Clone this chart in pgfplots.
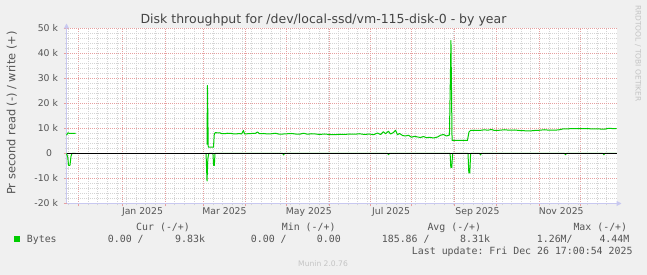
\documentclass[border=0pt]{standalone}
\usepackage{fontspec}
\setmainfont{DejaVu Sans}
\setmonofont{DejaVu Sans Mono}
\usepackage{pgfplots}
\pgfplotsset{compat=1.18}
\usetikzlibrary{arrows.meta}
\definecolor{bgc}{HTML}{F0F0F0}
\definecolor{linec}{HTML}{00CC00}
\definecolor{axc}{HTML}{C8C8F0}
\definecolor{mgc}{HTML}{E6A0A0}
\definecolor{grc}{HTML}{D4D4D4}
\definecolor{tc}{HTML}{555555}
\definecolor{titlec}{HTML}{444444}
\definecolor{wmc}{HTML}{C4C4C4}

\pgfplotstableread{
day val
0 7300
1.09 8300
2.18 8000
6.55 8000
7 nan
102.2 3500
102.5 27200
103.1 2500
106.9 2500
107.5 7900
108.4 8400
109.8 8200
111.3 8300
112.7 8000
114.9 7900
117.1 8100
120.0 8000
122.2 7800
124.4 7900
125.8 8000
127.3 7800
128.7 9200
129.5 7800
131.6 7900
134.5 8000
137.5 8100
138.9 8600
140.4 7900
143.3 8000
146.2 7800
149.1 7900
152.0 8100
154.9 7700
157.8 7800
160.7 7900
163.6 8000
166.5 7800
169.5 7700
172.4 8100
175.3 7700
178.2 7900
181.1 7800
184.0 7600
187.6 7800
191.3 7600
194.9 7500
198.5 7700
202.2 7600
205.8 7800
209.5 7700
213.1 7900
216.7 7600
220.4 7800
223.3 7500
226.2 8200
228.4 7600
230.5 8700
232.0 7900
234.2 8900
235.6 7800
237.8 8400
239.3 9300
240.7 7500
242.2 8000
244.4 7200
246.5 7000
248.7 7300
250.9 6500
253.1 6900
255.3 6600
257.5 6400
259.6 6800
261.8 6300
264.0 6500
266.9 6200
269.8 6600
272.0 7300
274.2 7600
276.4 7000
278.5 7400
279.6 45200
280.4 5200
291.6 5200
292.7 8600
293.8 9200
296.7 9300
300.4 9200
304.0 9500
306.2 9300
309.1 9600
311.3 9200
314.9 9300
318.5 9500
322.2 9300
325.8 9400
329.5 9200
333.1 9100
336.7 9000
340.4 9200
344.0 9300
347.6 9500
351.3 9300
354.9 9300
358.5 9500
360.7 9800
365.8 9900
373.1 9900
380.4 9900
388.0 9800
391.3 9700
393.5 10000
396.4 10000
400 9900
}\writetable

\pgfplotstableread{
day val
0 0
0.9 -1500
1.5 -4800
2.5 -4800
3.3 -1000
4.0 0
6.55 0
7 nan
101.5 0
102.2 -11000
102.8 -2000
103.5 0
106.5 0
107.0 -4800
107.5 -4800
108.0 0
157.3 0
157.9 -600
158.5 0
233.6 0
234.2 -500
234.8 0
279.0 0
279.5 -5600
280.2 -5600
280.8 0
292.0 0
292.6 -7800
293.3 -7800
293.9 0
300.5 0
301.1 -600
301.7 0
362.3 0
362.9 -500
363.5 0
390.2 0
390.8 -500
391.4 0
400 0
}\readtable

\begin{document}
\begin{tikzpicture}[x=1pt,y=1pt]
\fill[bgc] (0,0) rectangle (647,275);
\useasboundingbox (0,0) rectangle (647,275);
\begin{axis}[
  scale only axis, width=550pt, height=175pt,
  at={(66.5pt,71.5pt)}, anchor=south west,
  xmin=0, xmax=400, ymin=-20000, ymax=50000,
  axis lines=left,
  axis line style={draw=axc, line width=1pt},
  x axis line style={-{Triangle[length=5pt,width=5pt]}, shorten >=-5pt},
  y axis line style={-{Triangle[length=5pt,width=5pt]}, shorten >=-5pt},
  axis background/.style={fill=white},
  grid=both,
  major grid style={draw=mgc, dash pattern=on 1pt off 1pt, dash phase=0.5pt, line width=1pt},
  minor grid style={draw=grc, dash pattern=on 1pt off 1pt, dash phase=0.5pt, line width=1pt},
  tick align=outside,
  major tick length=3pt, minor tick length=2pt,
  major tick style={draw=mgc, line width=1pt},
  minor tick style={draw=grc, line width=1pt},
  xtick={8.727,40.727,72.0,99.636,130.182,160.0,191.273,221.091,250.909,282.182,312.727,344.0,373.818},
  xticklabels={},
  minor xtick={1.455,8.727,16.0,22.545,29.818,37.091,43.636,50.909,57.455,64.727,72.0,78.545,85.818,93.091,99.636,106.909,113.455,120.727,128.0,134.545,141.818,149.091,155.636,162.909,169.455,176.727,184.0,190.545,197.818,205.091,211.636,218.909,225.455,232.727,240.0,246.545,253.818,261.091,267.636,274.909,281.455,288.727,296.0,302.545,309.818,317.091,323.636,330.909,337.455,344.0,351.273,357.818,365.091,372.364,378.909,386.182,392.727},
  ytick={-20000,-10000,0,10000,20000,30000,40000,50000},
  yticklabels={-20 k,-10 k,0\hspace*{6pt},10 k,20 k,30 k,40 k,50 k},
  minor ytick={-18000,-16000,...,48000},
  scaled y ticks=false,
  tick label style={font=\fontsize{9.3}{11}\selectfont, text=tc},
  yticklabel style={anchor=east, xshift=-2pt},
  unbounded coords=jump,
  clip=false,
]
\addplot[linec, line width=1pt, line join=round] table[x=day, y=val] {\readtable};
\addplot[linec, line width=1pt, line join=round] table[x=day, y=val] {\writetable};
\addplot[black, line width=1pt] coordinates {(0,0) (400,0)};
\end{axis}
\begin{axis}[
  scale only axis, width=550pt, height=175pt,
  at={(66.5pt,71.5pt)}, anchor=south west,
  xmin=0, xmax=400, ymin=-20000, ymax=50000,
  axis x line*=bottom, axis y line=none,
  x axis line style={draw=none},
  major tick length=0pt,
  xtick={55.27,114.9,176.2,236.1,298.9,359.8},
  xticklabels={Jan 2025,Mar 2025,May 2025,Jul 2025,Sep 2025,Nov 2025},
  ytick=\empty,
  tick label style={font=\fontsize{9.3}{11}\selectfont, text=tc},
  xticklabel style={anchor=base, yshift=-11pt},
]
\end{axis}
\node[anchor=base, inner sep=0, font=\fontsize{12.5}{14}\selectfont, text=titlec] at (323.5,251) {Disk throughput for /dev/local-ssd/vm-115-disk-0 - by year};
\node[rotate=90, anchor=base, inner sep=0, font=\fontsize{11.4}{13}\selectfont, text=tc] at (15.3,162) {Pr second read (-) / write (+)};
\node[rotate=-90, anchor=base, inner sep=0, font=\fontsize{7.5}{9}\selectfont, text=wmc] at (635.7,221.6) {RRDTOOL / TOBI OETIKER};
\node[anchor=base west, inner sep=0, font=\fontsize{7.6}{9}\selectfont, text=wmc] at (298,8.3) {Munin 2.0.76};
\begin{scope}[every node/.style={inner sep=0, font=\ttfamily\fontsize{9.9}{12}\selectfont, text=tc}]
\node[anchor=base west] at (136,44.5) {Cur (-/+)};
\node[anchor=base west] at (281.7,44.5) {Min (-/+)};
\node[anchor=base west] at (427.3,44.5) {Avg (-/+)};
\node[anchor=base west] at (573.3,44.5) {Max (-/+)};
\fill[linec] (14,33) rectangle (19.5,38.5);
\node[anchor=base west] at (26.7,32.5) {Bytes};
\node[anchor=base west] at (107.7,32.5) {0.00 /};
\node[anchor=base west] at (175,32.5) {9.83k};
\node[anchor=base west] at (250.7,32.5) {0.00 /};
\node[anchor=base east] at (341,32.5) {0.00};
\node[anchor=base west] at (381.7,32.5) {185.86 /};
\node[anchor=base west] at (460,32.5) {8.31k};
\node[anchor=base west] at (536.7,32.5) {1.26M/};
\node[anchor=base west] at (599.3,32.5) {4.44M};
\node[anchor=base east] at (632.7,20.8) {Last update: Fri Dec 26 17:00:54 2025};
\end{scope}
\end{tikzpicture}
\end{document}
